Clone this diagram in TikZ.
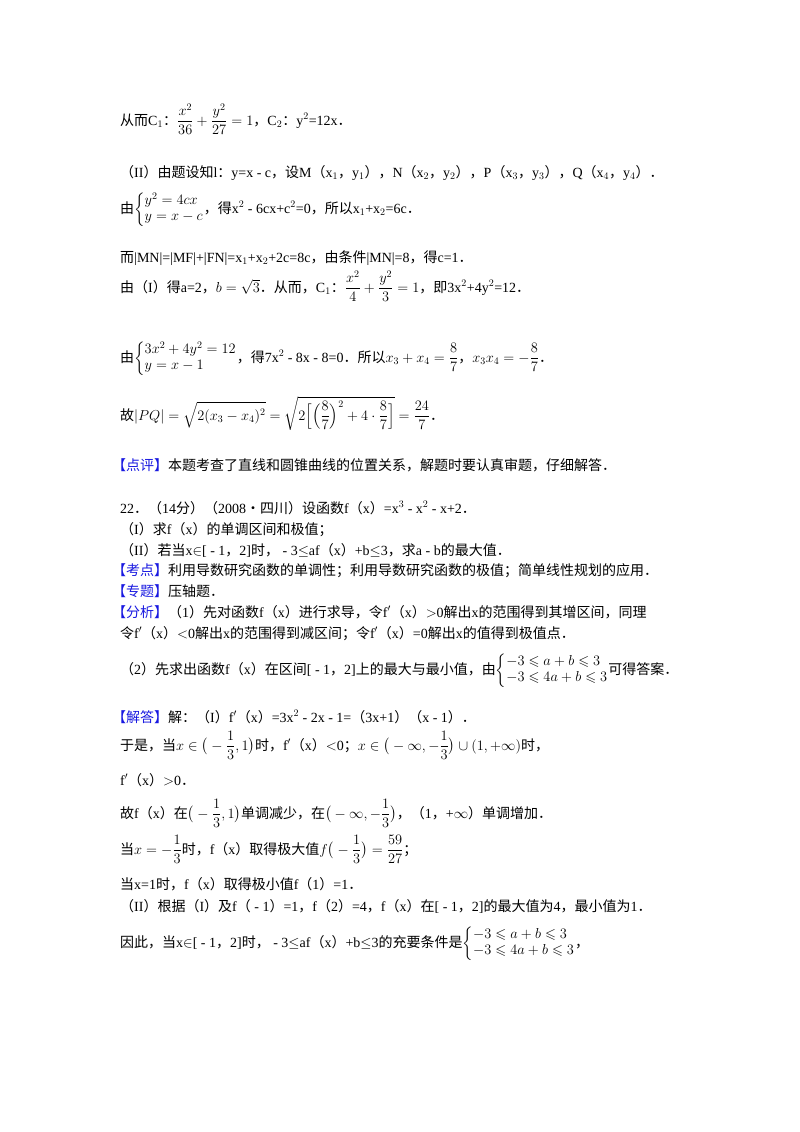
\documentclass[tikz,border=0pt]{standalone}
\usepackage{amsmath,amssymb}
\usepackage{fontspec}
\setmainfont{Liberation Serif}
\newfontfamily\cjk{Noto Sans CJK SC}
\newcommand{\e}[1]{{\rmfamily #1}}
\definecolor{lbl}{RGB}{25,25,225}
\newcommand{\bk}[1]{{\color{lbl}【#1】}}
\begin{document}
\begin{tikzpicture}[x=1pt,y=-1pt,
  ln/.style={anchor=base west,inner sep=0pt,font=\fontsize{14}{16}\cjk}]
\useasboundingbox (0,0) rectangle (800,1132);
\fill[white] (0,0) rectangle (800,1132);
\node[ln] (l1) at (120,125) {从而\e{C$_1$}：$\displaystyle\frac{x^2}{36}+\frac{y^2}{27}=1$，\e{C$_2$}：\e{y$^2$=12x}．};
\node[ln] (l2) at (120,177) {（\e{II}）由题设知\e{l}：\e{y=x - c}，设\e{M}（\e{x$_1$}，\e{y$_1$}），\e{N}（\e{x$_2$}，\e{y$_2$}），\e{P}（\e{x$_3$}，\e{y$_3$}），\e{Q}（\e{x$_4$}，\e{y$_4$}）．};
\node[ln] (l3) at (120,213) {由$\left\{\begin{array}{@{}l@{}}y^2=4cx\\ y=x-c\end{array}\right.$，得\e{x$^2$ - 6cx+c$^2$=0}，所以\e{x$_1$+x$_2$=6c}．};
\node[ln] (l4) at (120,262) {而\e{|MN|=|MF|+|FN|=x$_1$+x$_2$+2c=8c}，由条件\e{|MN|=8}，得\e{c=1}．};
\node[ln] (l5) at (120,292) {由（\e{I}）得\e{a=2}，$b=\sqrt3$．从而，\e{C$_1$}：$\displaystyle\frac{x^2}{4}+\frac{y^2}{3}=1$，即\e{3x$^2$+4y$^2$=12}．};
\node[ln] (l6) at (120,362) {由$\left\{\begin{array}{@{}l@{}}3x^2+4y^2=12\\ y=x-1\end{array}\right.$，得\e{7x$^2$ - 8x - 8=0}．所以$\displaystyle x_3+x_4=\frac87$，$\displaystyle x_3x_4=-\frac87$．};
\node[ln] (l7) at (120,420) {故$\displaystyle|PQ|=\sqrt{2(x_3-x_4)^2}=\sqrt{2\Big[\Big(\frac87\Big)^2+4\cdot\frac87\Big]}=\frac{24}{7}$．};
\node[ln] (l8) at (112,470) {\bk{点评}本题考查了直线和圆锥曲线的位置关系，解题时要认真审题，仔细解答．};
\node[ln] (l9) at (120,513) {\e{22}．（\e{14}分）（\e{2008}•四川）设函数\e{f}（\e{x}）\e{=x$^3$ - x$^2$ - x+2}．};
\node[ln] (l10) at (120,534) {（\e{I}）求\e{f}（\e{x}）的单调区间和极值；};
\node[ln] (l11) at (120,555) {（\e{II}）若当\e{x$\in$[ - 1}，\e{2]}时，\e{ - 3$\le$af}（\e{x}）\e{+b$\le$3}，求\e{a - b}的最大值．};
\node[ln] (l12) at (112,575) {\bk{考点}利用导数研究函数的单调性；利用导数研究函数的极值；简单线性规划的应用．};
\node[ln] (l13) at (112,596) {\bk{专题}压轴题．};
\node[ln] (l14) at (112,617) {\bk{分析}（\e{1}）先对函数\e{f}（\e{x}）进行求导，令\e{f$'$}（\e{x}）\e{$>$0}解出\e{x}的范围得到其增区间，同理};
\node[ln] (l15) at (120,638) {令\e{f$'$}（\e{x}）\e{$<$0}解出\e{x}的范围得到减区间；令\e{f$'$}（\e{x}）\e{=0}解出\e{x}的值得到极值点．};
\node[ln] (l16) at (120,674) {（\e{2}）先求出函数\e{f}（\e{x}）在区间\e{[ - 1}，\e{2]}上的最大与最小值，由$\left\{\begin{array}{@{}l@{}}-3\leqslant a+b\leqslant3\\ -3\leqslant 4a+b\leqslant3\end{array}\right.$可得答案．};
\node[ln] (l17) at (112,722) {\bk{解答}解：（\e{I}）\e{f$'$}（\e{x}）\e{=3x$^2$ - 2x - 1=}（\e{3x+1}）（\e{x - 1}）．};
\node[ln] (l18) at (120,750) {于是，当$x\in\big(-\dfrac13,1\big)$时，\e{f$'$}（\e{x}）\e{$<$0}；$x\in\big(-\infty,-\dfrac13\big)\cup(1,+\infty)$时，};
\node[ln] (l19) at (120,785) {\e{f$'$}（\e{x}）\e{$>$0}．};
\node[ln] (l20) at (120,818) {故\e{f}（\e{x}）在$\big(-\dfrac13,1\big)$单调减少，在$\big(-\infty,-\dfrac13\big)$，（\e{1}，\e{+$\infty$}）单调增加．};
\node[ln] (l21) at (120,854) {当$x=-\dfrac13$时，\e{f}（\e{x}）取得极大值$f\big(-\dfrac13\big)=\dfrac{59}{27}$；};
\node[ln] (l22) at (120,889) {当\e{x=1}时，\e{f}（\e{x}）取得极小值\e{f}（\e{1}）\e{=1}．};
\node[ln] (l23) at (120,911) {（\e{II}）根据（\e{I}）及\e{f}（\e{ - 1}）\e{=1}，\e{f}（\e{2}）\e{=4}，\e{f}（\e{x}）在\e{[ - 1}，\e{2]}的最大值为\e{4}，最小值为\e{1}．};
\node[ln] (l24) at (120,947) {因此，当\e{x$\in$[ - 1}，\e{2]}时，\e{ - 3$\le$af}（\e{x}）\e{+b$\le$3}的充要条件是$\left\{\begin{array}{@{}l@{}}-3\leqslant a+b\leqslant3\\ -3\leqslant 4a+b\leqslant3\end{array}\right.$，};
\end{tikzpicture}
\end{document}
